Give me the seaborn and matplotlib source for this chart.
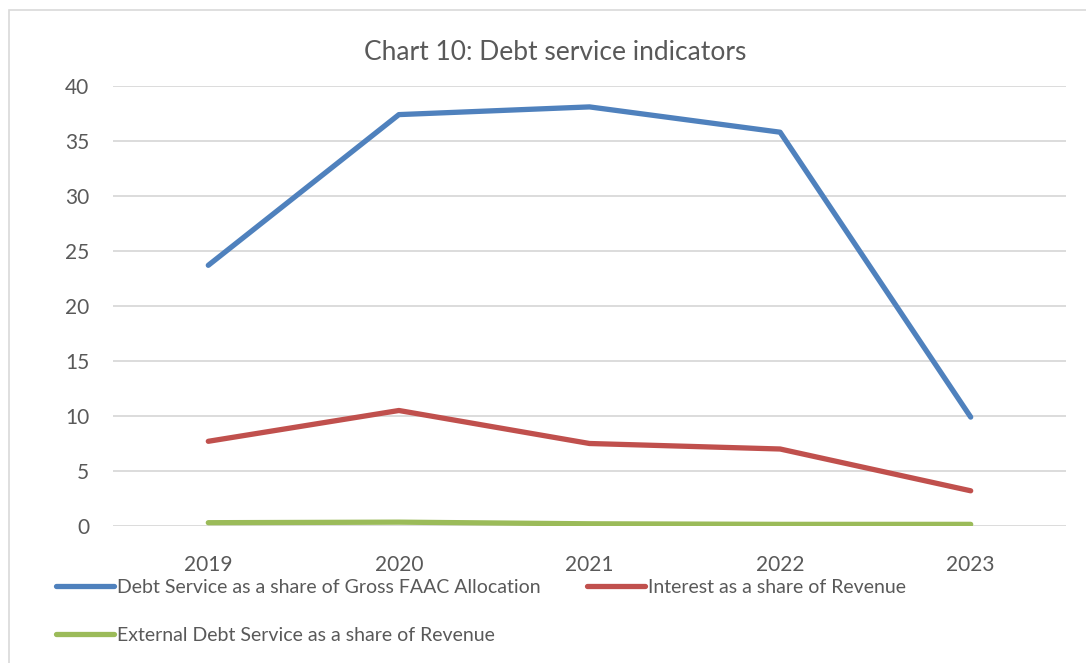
import matplotlib
matplotlib.use("Agg")
import matplotlib.pyplot as plt
import pandas as pd
import seaborn as sns
from matplotlib.patches import Rectangle

years = [2019, 2020, 2021, 2022, 2023]
debt_service_faac = [23.7, 37.4, 38.1, 35.8, 9.9]
interest_revenue = [7.7, 10.5, 7.5, 7.0, 3.2]
ext_debt_revenue = [0.3, 0.35, 0.2, 0.15, 0.15]

names = ["Debt Service as a share of Gross FAAC Allocation",
         "Interest as a share of Revenue",
         "External Debt Service as a share of Revenue"]
colors = ["#4F81BD", "#C0504D", "#9BBB59"]

df = pd.DataFrame({
    "year": years * 3,
    "value": debt_service_faac + interest_revenue + ext_debt_revenue,
    "series": [names[0]] * 5 + [names[1]] * 5 + [names[2]] * 5,
})

sns.set_theme(style="white")
plt.rcParams["font.family"] = ["Lato", "DejaVu Sans"]
txt = "#595959"

fig = plt.figure(figsize=(10.86, 6.63), dpi=100)
ax = fig.add_axes([113 / 1086, 1 - 526 / 663, (1066 - 113) / 1086, 440 / 663])

sns.lineplot(data=df, x="year", y="value", hue="series", hue_order=names,
             palette=colors, linewidth=3.8, ax=ax, legend=False,
             solid_capstyle="round")

ax.set_xlim(2018.5, 2023.5)
ax.set_ylim(0, 40)
ax.set_xticks(years)
ax.set_yticks(range(0, 41, 5))
ax.yaxis.grid(True, color="#D9D9D9", linewidth=1.3)
ax.set_axisbelow(True)
for s in ax.spines.values():
    s.set_visible(False)
ax.tick_params(axis="both", length=0, labelsize=15, colors=txt)
ax.tick_params(axis="x", pad=21)
ax.tick_params(axis="y", pad=17)
ax.set_xlabel("")
ax.set_ylabel("")

fig.text(555 / 1086, 1 - 52 / 663, "Chart 10: Debt service indicators",
         ha="center", va="center", fontsize=19, color=txt)

# legend, Excel-style layout: blue & red on first row, green on second
handles = [plt.Line2D([], [], color=c, linewidth=3.8, solid_capstyle="round")
           for c in colors]
order = [0, 2, 1]
leg = fig.legend([handles[i] for i in order], [names[i] for i in order],
                 ncol=2, loc="upper left",
                 bbox_to_anchor=(56 / 1086, 1 - 579 / 663),
                 frameon=False, fontsize=14, handlelength=3.0,
                 handletextpad=0.15, columnspacing=2.35, labelspacing=1.6,
                 borderpad=0, borderaxespad=0)
for t in leg.get_texts():
    t.set_color(txt)

fig.patches.append(Rectangle((9 / 1086, -0.1), 1.2, 1.1 - 10 / 663,
                             transform=fig.transFigure, fill=False,
                             edgecolor="#D9D9D9", linewidth=1.2))

fig.savefig("out.png", dpi=100, facecolor="white")
